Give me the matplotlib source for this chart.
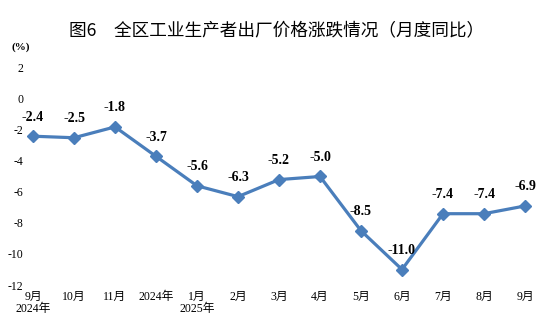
import matplotlib
matplotlib.use("Agg")
import matplotlib.pyplot as plt

months = ["9月\n2024年", "10月", "11月", "2024年", "1月\n2025年", "2月", "3月",
          "4月", "5月", "6月", "7月", "8月", "9月"]
values = [-2.4, -2.5, -1.8, -3.7, -5.6, -6.3, -5.2, -5.0, -8.5, -11.0, -7.4, -7.4, -6.9]
yticks = [2, 0, -2, -4, -6, -8, -10, -12]

plt.rcParams['font.family'] = ['Liberation Serif', 'Noto Sans CJK SC', 'DejaVu Sans']

fig = plt.figure(figsize=(5.54, 3.26), dpi=100)
ax = fig.add_axes([12.5/554, 1-285/326, 533/554, 217/326])
x = list(range(len(values)))
color = '#4A7EBB'
ax.plot(x, values, color=color, lw=2.3, marker='D', ms=6.5, zorder=3)
ax.set_xlim(-0.5, len(values) - 0.5)
ax.set_ylim(-12, 2)
ax.set_yticks(yticks)
ax.set_yticklabels([str(v) for v in yticks], fontsize=8.5)
ax.set_xticks(x)
ax.set_xticklabels(months, fontsize=8.5, linespacing=1.1)
for s in ax.spines.values():
    s.set_visible(False)
ax.tick_params(axis='y', length=0, pad=-8)
ax.tick_params(axis='x', length=0, pad=4)
for xi, v in zip(x, values):
    ax.annotate(f"{v:.1f}", (xi, v), xytext=(0, 9), textcoords='offset points',
                ha='center', va='bottom', fontsize=10, fontweight='bold')

fig.text(277/554, 1-30/326, "图6　全区工业生产者出厂价格涨跌情况（月度同比）",
         ha='center', va='center', fontsize=12.7, family=['Noto Sans CJK SC', 'DejaVu Sans'])
fig.text(12/554, 1-47/326, "(%)", ha='left', va='center', fontsize=8, fontweight='bold')

fig.savefig("out.png", dpi=100)
